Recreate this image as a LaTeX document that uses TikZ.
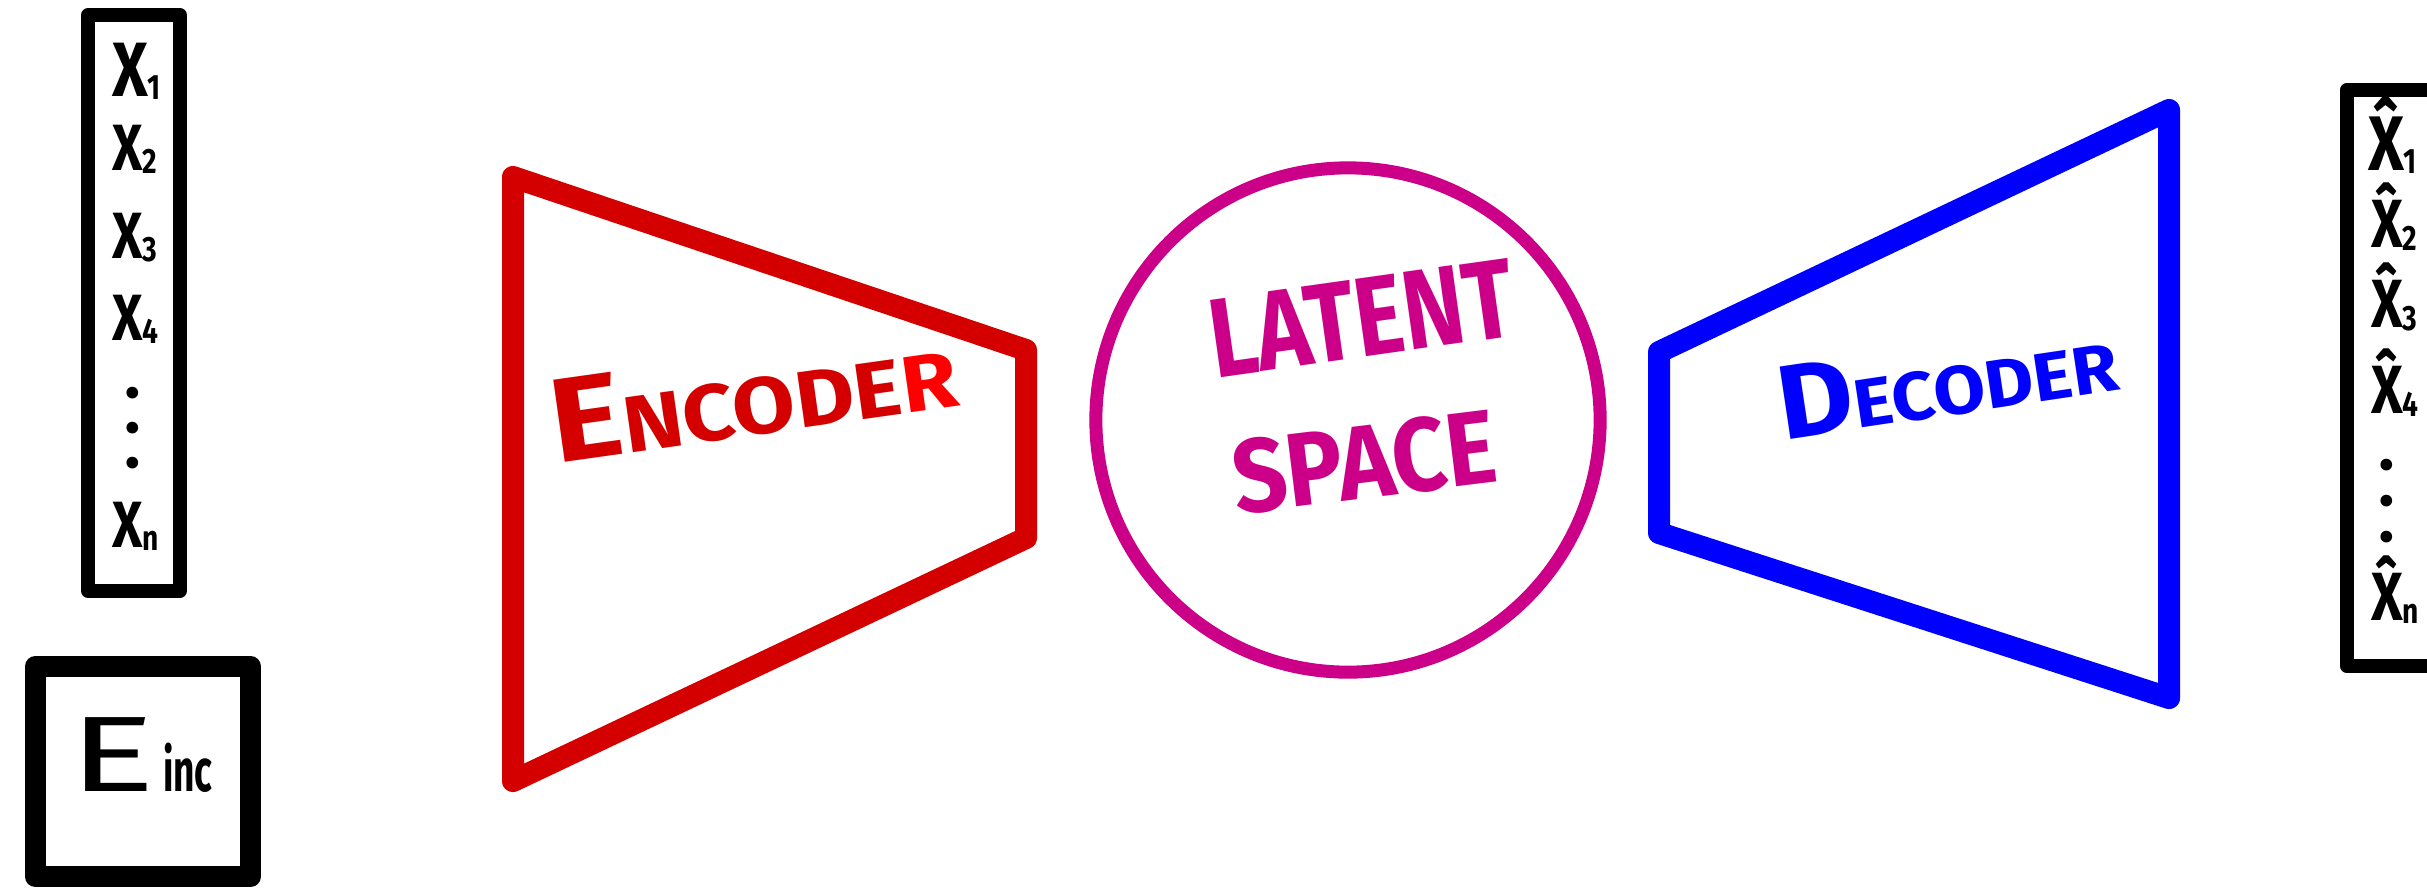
\documentclass[tikz,border=0pt]{standalone}
\usepackage{fontspec}
\setmainfont{Fira Sans}
\definecolor{encred}{RGB}{212,0,0}
\definecolor{encR}{RGB}{255,0,0}
\definecolor{latmag}{RGB}{204,0,136}
\definecolor{decblue}{RGB}{0,0,255}
\newcommand\subn[1]{\raisebox{-1pt}{\scalebox{0.8}[1]{\fontsize{10}{10}\selectfont #1}}}
\newcommand\nX{\scalebox{0.8}[1]{X}}
\newcommand\hX{\scalebox{0.8}[1]{\^X}}
\begin{document}
\begin{tikzpicture}[x=0.01cm,y=-0.01cm,
  blackbox/.style={draw=black,line join=round,rectangle,inner sep=0pt,outer sep=0pt},
  trap/.style={line join=round,line cap=round},
  lbl/.style={inner sep=0pt,outer sep=0pt},
]
\useasboundingbox (0,0) rectangle (2427,890);
\fill[white] (0,0) rectangle (2427,890);
\begin{scope}
\clip (0,0) rectangle (2427,890);
% boxes
\node[blackbox,line width=0.14cm,minimum width=0.91cm,minimum height=5.76cm] (inbox) at (134,303) {};
\node[blackbox,line width=0.21cm,minimum width=2.15cm,minimum height=2.10cm] (incbox) at (143,771.5) {};
\node[blackbox,line width=0.14cm,minimum width=1.23cm,minimum height=5.76cm] (outbox) at (2408.5,378) {};
% encoder
\coordinate (e1) at (513,177);
\coordinate (e2) at (1026,350);
\coordinate (e3) at (1026,538);
\coordinate (e4) at (513,781);
\draw[trap,draw=encred,line width=0.22cm] (e1) -- (e2) -- (e3) -- (e4) -- cycle;
% latent
\node[circle,draw=latmag,line width=0.13cm,minimum size=5.04cm,inner sep=0pt] (latent) at (1348,420) {};
% decoder
\coordinate (d1) at (1659,352);
\coordinate (d2) at (2169,110);
\coordinate (d3) at (2169,698);
\coordinate (d4) at (1659,533);
\draw[trap,draw=decblue,line width=0.22cm] (d1) -- (d2) -- (d3) -- (d4) -- cycle;
% colored labels
\node[lbl,anchor=base west,rotate=8,text=encred] (enc) at (556,463)
  {\scalebox{1.14}[1]{\bfseries\fontsize{34}{34}\selectfont E\fontsize{22.7}{22.7}\selectfont NCODE\textcolor{encR}{R}}};
\node[lbl,anchor=base west,rotate=8,text=latmag] (lat1) at (1215,378)
  {\scalebox{0.82}[1]{\bfseries\fontsize{32}{32}\selectfont LATENT}};
\node[lbl,anchor=base west,rotate=7,text=latmag] (lat2) at (1237,514)
  {\scalebox{0.91}[1]{\bfseries\fontsize{29.7}{29.7}\selectfont SPACE}};
\node[lbl,anchor=base west,rotate=8.5,text=decblue] (dec) at (1783,440)
  {\scalebox{1.1}[1]{\bfseries\fontsize{30}{30}\selectfont D\fontsize{19.4}{19.4}\selectfont ECODER}};
% input labels
\node[lbl,anchor=base west] (x1) at (112,96) {\bfseries\fontsize{21.9}{22}\selectfont \nX\subn{1}};
\node[lbl,anchor=base west] (x2) at (112,170) {\bfseries\fontsize{18.6}{19}\selectfont \nX\subn{2}};
\node[lbl,anchor=base west] (x3) at (112,258) {\bfseries\fontsize{18.6}{19}\selectfont \nX\subn{3}};
\node[lbl,anchor=base west] (x4) at (112,340) {\bfseries\fontsize{18.6}{19}\selectfont \nX\subn{4}};
\node[lbl,align=center,font={\bfseries\fontsize{12}{9.96}\selectfont}] (xdots) at (133,432) {•\\•\\•};
\node[lbl,anchor=base west] (xn) at (112,547) {\bfseries\fontsize{18.6}{19}\selectfont \nX\subn{n}};
% E_inc
\node[lbl,anchor=base west] (einc) at (70,791) {\fontsize{30.5}{30}\selectfont \scalebox{1.5}[1]{E}\kern2pt\scalebox{0.62}[1]{\fontsize{17}{17}\selectfont\bfseries inc}};
% output labels
\node[lbl,anchor=base west] (y1) at (2368,170) {\bfseries\fontsize{22}{22}\selectfont \hX\subn{1}};
\node[lbl,anchor=base west] (y2) at (2371,247) {\bfseries\fontsize{19.4}{20}\selectfont \hX\subn{2}};
\node[lbl,anchor=base west] (y3) at (2371,327) {\bfseries\fontsize{19.4}{20}\selectfont \hX\subn{3}};
\node[lbl,anchor=base west] (y4) at (2371,413) {\bfseries\fontsize{19.4}{20}\selectfont \hX\subn{4}};
\node[lbl,align=center,font={\bfseries\fontsize{12}{10.2}\selectfont}] (ydots) at (2387,505) {•\\•\\•};
\node[lbl,anchor=base west] (yn) at (2371,620) {\bfseries\fontsize{19.4}{20}\selectfont \hX\subn{n}};
\end{scope}
\end{tikzpicture}
\end{document}
